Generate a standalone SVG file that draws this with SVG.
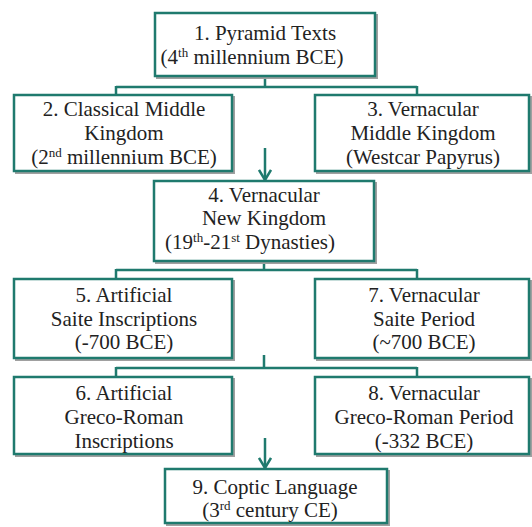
<svg xmlns="http://www.w3.org/2000/svg" width="532" height="527" viewBox="0 0 532 527">
<defs>
<style>
.sh{fill:none;stroke:#a0a0a0;stroke-width:2}
.bx{fill:#ffffff;stroke:#1f7a6e;stroke-width:2.5}
.cn{fill:none;stroke:#1f7a6e;stroke-width:2.5}
.t{font-size:21px;fill:#222;text-anchor:middle}
.sup{font-size:13px}
</style>
<marker id="ah" viewBox="0 0 12 14" refX="11" refY="7" markerWidth="12" markerHeight="14" markerUnits="userSpaceOnUse" orient="auto">
<path d="M1,1 L11,7 L1,13" fill="none" stroke="#1f7a6e" stroke-width="2.5"/>
</marker>
</defs>
<rect width="532" height="527" fill="#ffffff"/>
<g id="connectors">
<path class="cn" d="M265,76 V87 M116,87 H417 M116,86 V95 M417,86 V95"/>
<line class="cn" x1="265" y1="148" x2="265" y2="180" marker-end="url(#ah)"/>
<path class="cn" d="M264,261 V270 M116,270 H417 M116,269 V279 M417,269 V279"/>
<path class="cn" d="M264,355 V368 M116,368 H417 M116,367 V377 M417,367 V377"/>
<line class="cn" x1="265" y1="438" x2="265" y2="468" marker-end="url(#ah)"/>
</g>
<g font-family="Liberation Serif, serif">
<g id="n1">
<rect class="sh" x="157" y="15" width="220" height="63"/>
<rect class="bx" x="155" y="13" width="220" height="63"/>
<text class="t" x="265" y="40">1. Pyramid Texts</text>
<text class="t" x="252" y="64">(4<tspan class="sup" dy="-7">th</tspan><tspan dy="7"> millennium BCE)</tspan></text>
</g>
<g id="n2">
<rect class="sh" x="16" y="97" width="218" height="76"/>
<rect class="bx" x="14" y="95" width="218" height="76"/>
<text class="t" x="124" y="116">2. Classical Middle</text>
<text class="t" x="124" y="140">Kingdom</text>
<text class="t" x="124" y="164">(2<tspan class="sup" dy="-7">nd</tspan><tspan dy="7"> millennium BCE)</tspan></text>
</g>
<g id="n3">
<rect class="sh" x="317" y="97" width="214" height="76"/>
<rect class="bx" x="315" y="95" width="214" height="76"/>
<text class="t" x="423" y="116">3. Vernacular</text>
<text class="t" x="423" y="140">Middle Kingdom</text>
<text class="t" x="423" y="164">(Westcar Papyrus)</text>
</g>
<g id="n4">
<rect class="sh" x="156" y="183" width="220" height="80"/>
<rect class="bx" x="154" y="181" width="220" height="80"/>
<text class="t" x="264" y="202">4. Vernacular</text>
<text class="t" x="264" y="225">New Kingdom</text>
<text class="t" x="250" y="249">(19<tspan class="sup" dy="-7">th</tspan><tspan dy="7">-21</tspan><tspan class="sup" dy="-7">st</tspan><tspan dy="7"> Dynasties)</tspan></text>
</g>
<g id="n5">
<rect class="sh" x="16" y="281" width="218" height="79"/>
<rect class="bx" x="14" y="279" width="218" height="79"/>
<text class="t" x="124" y="302">5. Artificial</text>
<text class="t" x="124" y="326">Saite Inscriptions</text>
<text class="t" x="124" y="349">(-700 BCE)</text>
</g>
<g id="n7">
<rect class="sh" x="317" y="281" width="214" height="79"/>
<rect class="bx" x="315" y="279" width="214" height="79"/>
<text class="t" x="424" y="302">7. Vernacular</text>
<text class="t" x="424" y="326">Saite Period</text>
<text class="t" x="424" y="349">(~700 BCE)</text>
</g>
<g id="n6">
<rect class="sh" x="16" y="379" width="218" height="77"/>
<rect class="bx" x="14" y="377" width="218" height="77"/>
<text class="t" x="124" y="400">6. Artificial</text>
<text class="t" x="124" y="424">Greco-Roman</text>
<text class="t" x="124" y="448">Inscriptions</text>
</g>
<g id="n8">
<rect class="sh" x="317" y="379" width="214" height="77"/>
<rect class="bx" x="315" y="377" width="214" height="77"/>
<text class="t" x="424" y="400">8. Vernacular</text>
<text class="t" x="424" y="424">Greco-Roman Period</text>
<text class="t" x="424" y="448">(-332 BCE)</text>
</g>
<g id="n9">
<rect class="sh" x="167" y="471" width="222" height="54"/>
<rect class="bx" x="165" y="469" width="222" height="54"/>
<text class="t" x="275" y="494">9. Coptic Language</text>
<text class="t" x="270" y="517">(3<tspan class="sup" dy="-7">rd</tspan><tspan dy="7"> century CE)</tspan></text>
</g>
</g>
</svg>
